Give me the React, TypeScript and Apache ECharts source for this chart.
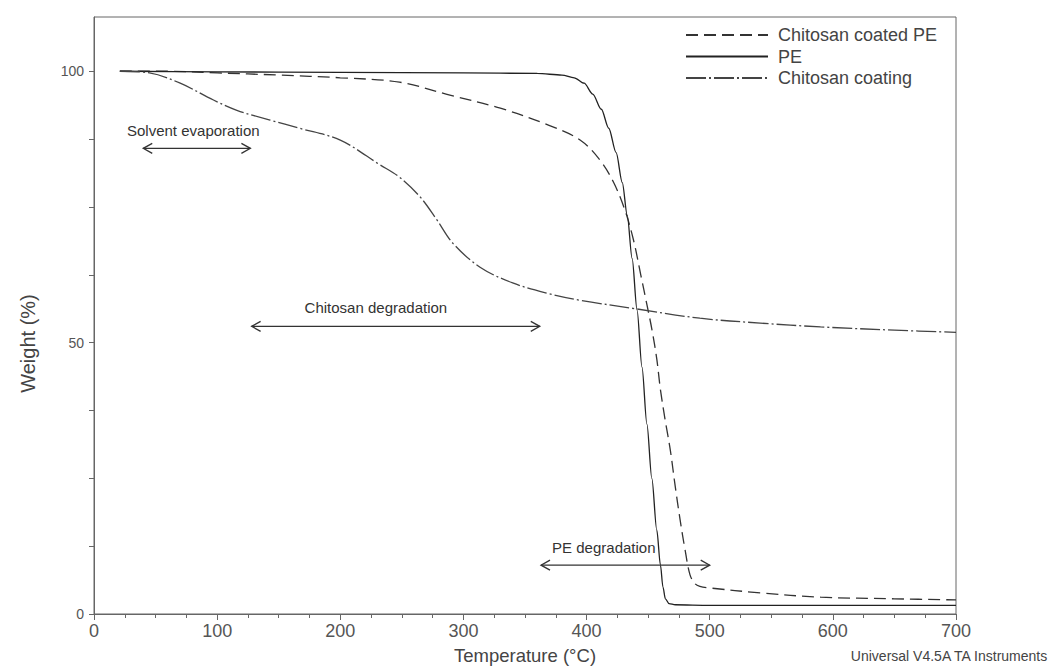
import React, { useEffect, useRef } from "react";
import * as echarts from "echarts";

// ---- data ----
const seriesNames = ["Chitosan coated PE", "PE", "Chitosan coating"];

const tempPE = [21, 100, 200, 300, 360, 380, 390, 398, 405, 412, 418, 424, 429, 433, 437, 441, 445, 449, 453, 457, 460, 462, 464, 467, 472, 500, 600, 700];
const weightPE = [100, 99.9, 99.8, 99.7, 99.6, 99.3, 98.8, 97.8, 95.8, 93, 89.5, 85, 79.5, 73.5, 65.5, 56, 45.5, 35, 25, 15.5, 9, 5, 2.8, 1.9, 1.7, 1.6, 1.6, 1.6];

const tempCoated = [21, 60, 100, 150, 200, 248, 289, 330, 370, 395, 411, 422, 431, 438, 444, 449, 453, 457, 460, 464, 468, 472, 476, 480, 484, 488, 492, 500, 541, 590, 650, 700];
const weightCoated = [100, 100, 99.7, 99.3, 98.8, 98, 95.6, 93.2, 90, 87.3, 83.6, 79.5, 74.5, 69, 62.5, 57, 52.5, 47, 41.3, 35.5, 30.2, 23.5, 17.3, 11.8, 7.2, 5.6, 5.1, 4.8, 3.9, 3.1, 2.8, 2.6];

const tempCoating = [21, 45, 70, 97, 116, 143, 167, 200, 232, 248, 265, 278.5, 291.5, 313.5, 340, 368, 395, 441, 492, 541, 590, 650, 700];
const weightCoating = [100, 99.7, 97.8, 94.7, 92.8, 91, 89.5, 87.3, 82.8, 80.5, 76.8, 72.6, 68.3, 63.9, 61, 59.1, 57.8, 56.2, 54.5, 53.6, 52.9, 52.3, 51.9];

// annotations: label, arrow start T, arrow end T, arrow weight, text T (left), text weight
const annoLabels = ["Solvent evaporation", "Chitosan degradation", "PE degradation"];
const annoStart = [40, 128, 363];
const annoEnd = [127, 362, 500];
const annoWeight = [85.8, 53.0, 9.0];
const annoTextT = [26.8, 171, 372];
const annoTextW = [89.1, 56.4, 12.3];

const xTicks = [0, 100, 200, 300, 400, 500, 600, 700];
const yLabelValues = [0, 50, 100];
const yTickValues = [0, 12.5, 25, 37.5, 50, 62.5, 75, 87.5, 100];

const footer = "Universal V4.5A TA Instruments";

const zip = (xs: number[], ys: number[]) => xs.map((x, i) => [x, ys[i]]);

export default function App() {
  const ref = useRef<HTMLDivElement>(null);
  useEffect(() => {
    if (!ref.current) return;
    const chart = echarts.init(ref.current, null, { renderer: "svg" });
    const font = "'Liberation Sans', Arial, sans-serif";
    const narrow = "'Liberation Sans Narrow', 'Liberation Sans', Arial, sans-serif";
    const axisColor = "#666";
    const lineColor = "#333";

    const annoData = annoLabels.map((_, i) => [annoStart[i], annoEnd[i], annoWeight[i], annoTextT[i], annoTextW[i]]);

    chart.setOption({
      animation: false,
      backgroundColor: "#fff",
      grid: {
        left: 94, right: 96, top: 17, bottom: 54,
        outerBoundsMode: "none",
        containLabel: false,
        show: true, borderColor: axisColor, borderWidth: 1,
      },
      legend: {
        orient: "vertical",
        left: 680,
        top: 20,
        itemWidth: 82,
        itemHeight: 14,
        itemGap: 1.5,
        data: seriesNames,
        itemStyle: { opacity: 0 },
        textStyle: { fontFamily: font, fontSize: 18, lineHeight: 20, color: "#444", padding: [0, 0, 0, 5] },
      },
      xAxis: {
        type: "value",
        min: 0,
        max: 700,
        interval: 100,
        name: "Temperature (°C)",
        nameLocation: "middle",
        nameGap: 32,
        nameTextStyle: { fontFamily: font, fontSize: 18.5, color: "#444" },
        axisLine: { lineStyle: { color: axisColor } },
        axisTick: { length: 6, lineStyle: { color: axisColor } },
        minorTick: { show: true, splitNumber: 4, length: 4, lineStyle: { color: axisColor } },
        axisLabel: {
          fontFamily: narrow,
          fontSize: 18,
          color: "#555",
          margin: 8,
          formatter: (v: number) => (xTicks.includes(v) ? String(v) : ""),
        },
        splitLine: { show: false },
      },
      yAxis: {
        type: "value",
        min: 0,
        max: 110,
        name: "Weight (%)",
        nameLocation: "middle",
        nameGap: 56,
        nameTextStyle: { fontFamily: font, fontSize: 20, color: "#444", padding: [0, 56, 0, 0] },
        axisLine: { show: true, lineStyle: { color: axisColor } },
        axisTick: { show: true, length: 5, customValues: yTickValues, lineStyle: { color: axisColor } },
        axisLabel: {
          customValues: yLabelValues,
          fontFamily: font,
          fontSize: 14,
          color: "#555",
          margin: 10,
        },
        splitLine: { show: false },
      },
      series: [
        {
          name: seriesNames[0],
          type: "line",
          data: zip(tempCoated, weightCoated),
          showSymbol: false,
          symbol: "none",
          smooth: 0.35,
          lineStyle: { color: lineColor, width: 1.3, type: [12, 6] },
          itemStyle: { color: lineColor },
          z: 3,
        },
        {
          name: seriesNames[1],
          type: "line",
          data: zip(tempPE, weightPE),
          showSymbol: false,
          symbol: "none",
          smooth: 0.3,
          smoothMonotone: "x",
          lineStyle: { color: "#222", width: 1.3, type: "solid" },
          itemStyle: { color: "#222" },
          z: 3,
        },
        {
          name: seriesNames[2],
          type: "line",
          data: zip(tempCoating, weightCoating),
          showSymbol: false,
          symbol: "none",
          smooth: 0.35,
          lineStyle: { color: "#444", width: 1.3, type: [20, 3, 2, 3] },
          itemStyle: { color: "#444" },
          z: 3,
        },
        {
          type: "custom",
          name: "annotations",
          silent: true,
          data: annoData,
          renderItem: (params: any, api: any) => {
            const p1 = api.coord([api.value(0), api.value(2)]);
            const p2 = api.coord([api.value(1), api.value(2)]);
            const tp = api.coord([api.value(3), api.value(4)]);
            const h = 5;
            const w = 9;
            const style = { stroke: "#333", lineWidth: 1.3, fill: null };
            return {
              type: "group",
              children: [
                { type: "line", shape: { x1: p1[0], y1: p1[1], x2: p2[0], y2: p2[1] }, style },
                { type: "polyline", shape: { points: [[p1[0] + w, p1[1] - h], [p1[0], p1[1]], [p1[0] + w, p1[1] + h]] }, style },
                { type: "polyline", shape: { points: [[p2[0] - w, p2[1] - h], [p2[0], p2[1]], [p2[0] - w, p2[1] + h]] }, style },
                {
                  type: "text",
                  x: tp[0],
                  y: tp[1],
                  style: {
                    text: annoLabels[params.dataIndex],
                    fontFamily: font,
                    fontSize: 15,
                    fill: "#333",
                    align: "left",
                    verticalAlign: "middle",
                  },
                },
              ],
            };
          },
          z: 4,
        },
      ],
      graphic: [
        {
          type: "text",
          right: 3,
          top: 649,
          style: {
            text: footer,
            fontFamily: narrow,
            fontSize: 14,
            fill: "#444",
          },
        },
      ],
    });
    return () => chart.dispose();
  }, []);
  return <div ref={ref} style={{ position: "fixed", left: 0, top: 0, width: 1052, height: 668 }} />;
}
